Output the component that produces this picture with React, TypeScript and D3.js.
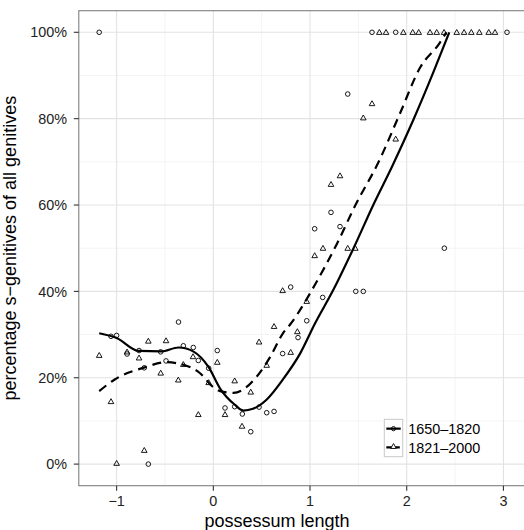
import React from "react";
import * as d3 from "d3";

// ---- data ----
const seriesNames = ["1650\u20131820", "1821\u20132000"];

const earlyX = [-1.18, -0.36, -1.058, -1.0, -0.892, -0.768, -0.544, -0.31, -0.207, -0.155, -0.489, -0.714, -0.048, 0.041, -0.672, 0.121, 0.221, 0.30, 0.473, 0.552, 0.628, 0.387, 0.717, 0.876, 0.966, 1.131, 0.80, 1.473, 1.551, 1.048, 1.31, 1.217, 2.389, 1.39, 1.641, 1.886, 3.037];
const earlyY = [100, 32.9, 29.6, 29.8, 25.5, 26.3, 26.0, 27.4, 27.0, 24.0, 23.9, 22.3, 22.2, 26.3, 0, 13.0, 13.3, 11.6, 13.2, 11.9, 12.2, 7.5, 25.6, 29.3, 33.2, 38.6, 41.0, 40.0, 40.0, 54.5, 55.0, 58.3, 50.0, 85.7, 100, 100, 100];

const lateX = [-1.18, -0.672, -0.489, -0.892, -0.768, -0.21, -0.31, -0.544, -0.362, -0.048, 0.041, -1.058, -0.155, -0.714, -1.0, 0.221, 0.387, 0.121, 0.297, 0.473, 0.552, 0.80, 0.628, 0.869, 0.966, 0.717, 1.048, 1.134, 1.39, 1.468, 1.217, 1.31, 1.641, 1.551, 1.886, 1.717, 1.786, 1.965, 2.062, 2.124, 2.241, 2.31, 2.386, 2.517, 2.593, 2.668, 2.751, 2.848, 2.913];
const lateY = [25.2, 28.5, 28.6, 26.0, 24.6, 24.9, 23.1, 21.1, 19.5, 18.9, 23.6, 14.5, 11.5, 3.2, 0.2, 19.3, 16.7, 11.5, 8.8, 28.3, 22.9, 25.9, 31.9, 30.7, 37.7, 40.2, 48.3, 50, 50, 50, 64.8, 66.8, 83.5, 80.2, 75.3, 100, 100, 100, 100, 100, 100, 100, 100, 100, 100, 100, 100, 100, 100];

const earlySmoothX = [-1.18, -1.0, -0.77, -0.54, -0.36, -0.2, -0.05, 0.07, 0.22, 0.31, 0.41, 0.55, 0.72, 0.9, 1.05, 1.24, 1.45, 1.66, 1.85, 2.07, 2.28, 2.44];
const earlySmoothY = [30.3, 29.2, 26.2, 26.1, 27.0, 26.0, 22.5, 17.5, 13.8, 12.4, 12.8, 14.9, 19.6, 25.7, 32.5, 40.3, 50, 60.3, 69, 79.8, 91, 100];

const lateSmoothX = [-1.18, -1.02, -0.71, -0.49, -0.31, -0.14, 0.0, 0.07, 0.21, 0.31, 0.45, 0.59, 0.72, 0.8, 1.07, 1.28, 1.47, 1.71, 1.93, 2.14, 2.34, 2.41];
const lateSmoothY = [16.9, 19.6, 22.4, 23.6, 23.0, 21.1, 17.8, 16.9, 16.5, 17.3, 20.3, 24.9, 30.3, 32.5, 42.3, 51.1, 60, 70, 81.2, 91.9, 97.5, 100];

const xTicks = [-1, 0, 1, 2, 3];
const xMinor = [-0.5, 0.5, 1.5, 2.5];
const yTicks = [0, 20, 40, 60, 80, 100];
const yMinor = [10, 30, 50, 70, 90];

const xTitle = "possessum length";
const yTitle = "percentage s\u2212genitives of all genitives";

export default function App() {
  const W = 524, H = 530;
  const left = 78.8, right = 527.7, top = 10.7, bottom = 485.7;
  const x = d3.scaleLinear().domain([-1.391, 3.251]).range([left, right]);
  const y = d3.scaleLinear().domain([-5, 105]).range([bottom, top]);
  const font = "'Liberation Sans', Arial, Helvetica, sans-serif";

  const line = d3.line<[number, number]>()
    .x(d => x(d[0]))
    .y(d => y(d[1]))
    .curve(d3.curveMonotoneX);

  const early: [number, number][] = earlySmoothX.map((v, i) => [v, earlySmoothY[i]]);
  const late: [number, number][] = lateSmoothX.map((v, i) => [v, lateSmoothY[i]]);

  const tri = (cx: number, cy: number, s = 2.8) =>
    `M${cx},${cy - s}L${cx + s * 1.0},${cy + s * 0.75}L${cx - s * 1.0},${cy + s * 0.75}Z`;

  const legX = 384.3, legY = 419.3, keyW = 18.4, keyH = 18.7;

  return (
    <svg width={W} height={H} style={{ position: "absolute", left: 0, top: 0, background: "#fff" }}>
      <rect x={0} y={0} width={W} height={H} fill="#fff" />
      {/* minor grid */}
      {xMinor.map(v => (
        <line key={"xm" + v} x1={x(v)} x2={x(v)} y1={top} y2={bottom} stroke="#f4f4f4" strokeWidth={1} />
      ))}
      {yMinor.map(v => (
        <line key={"ym" + v} x1={left} x2={right} y1={y(v)} y2={y(v)} stroke="#f4f4f4" strokeWidth={1} />
      ))}
      {/* major grid */}
      {xTicks.map(v => (
        <line key={"xg" + v} x1={x(v)} x2={x(v)} y1={top} y2={bottom} stroke="#e3e3e3" strokeWidth={1.1} />
      ))}
      {yTicks.map(v => (
        <line key={"yg" + v} x1={left} x2={right} y1={y(v)} y2={y(v)} stroke="#e3e3e3" strokeWidth={1.1} />
      ))}

      {/* points */}
      {earlyX.map((v, i) => (
        <circle key={"c" + i} cx={x(v)} cy={y(earlyY[i])} r={2.3} fill="none" stroke="#000" strokeWidth={0.9} />
      ))}
      {lateX.map((v, i) => (
        <path key={"t" + i} d={tri(x(v), y(lateY[i]))} fill="none" stroke="#000" strokeWidth={0.9} />
      ))}

      {/* smooth lines */}
      <path d={line(early) || ""} fill="none" stroke="#000" strokeWidth={2.2} />
      <path d={line(late) || ""} fill="none" stroke="#000" strokeWidth={2.2} strokeDasharray="9 6" />

      {/* panel border */}
      <rect x={left} y={top} width={right - left} height={bottom - top} fill="none" stroke="#808080" strokeWidth={1.1} />

      {/* x axis */}
      {xTicks.map(v => (
        <g key={"xt" + v}>
          <line x1={x(v)} x2={x(v)} y1={bottom} y2={bottom + 5} stroke="#333" strokeWidth={1.1} />
          <text x={x(v)} y={505.5} textAnchor="middle" fontFamily={font} fontSize={14.4} fill="#222">
            {v < 0 ? "\u2212" + Math.abs(v) : String(v)}
          </text>
        </g>
      ))}
      {/* y axis */}
      {yTicks.map(v => (
        <g key={"yt" + v}>
          <line x1={left - 5} x2={left} y1={y(v)} y2={y(v)} stroke="#333" strokeWidth={1.1} />
          <text x={67} y={y(v)} dy="0.36em" textAnchor="end" fontFamily={font} fontSize={14.4} fill="#222">
            {v + "%"}
          </text>
        </g>
      ))}

      <text x={277} y={526.5} textAnchor="middle" fontFamily={font} fontSize={18} fill="#000">
        {xTitle}
      </text>
      <text transform={`translate(15.5,${(top + bottom) / 2}) rotate(-90)`} textAnchor="middle" fontFamily={font} fontSize={18} fill="#000">
        {yTitle}
      </text>

      {/* legend */}
      <rect x={legX} y={legY} width={keyW} height={keyH * 2} fill="#fff" stroke="#c8c8c8" strokeWidth={1} />
      <line x1={legX + 2} x2={legX + keyW - 2} y1={legY + keyH / 2} y2={legY + keyH / 2} stroke="#000" strokeWidth={2.2} />
      <circle cx={legX + keyW / 2} cy={legY + keyH / 2} r={2.1} fill="none" stroke="#000" strokeWidth={0.9} />
      <line x1={legX + 2} x2={legX + keyW - 2} y1={legY + keyH * 1.5} y2={legY + keyH * 1.5} stroke="#000" strokeWidth={2.2} strokeDasharray="6 1.5" />
      <path d={tri(legX + keyW / 2, legY + keyH * 1.5 - 1)} fill="#fff" stroke="#000" strokeWidth={0.9} />
      {seriesNames.map((s, i) => (
        <text key={s} x={408.3} y={legY + keyH * (i + 0.5)} dy="0.36em" fontFamily={font} fontSize={14.4} fill="#000">
          {s}
        </text>
      ))}
    </svg>
  );
}
